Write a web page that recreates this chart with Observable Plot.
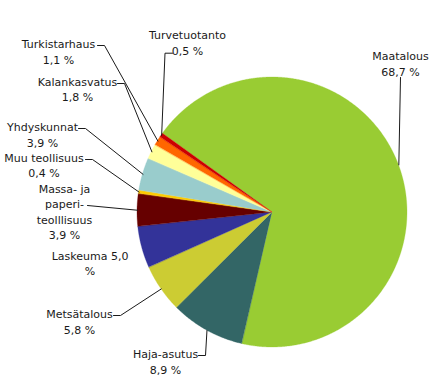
<!DOCTYPE html>
<html><head><meta charset="utf-8">
<script src="https://cdn.jsdelivr.net/npm/d3@7"></script>
<script src="https://cdn.jsdelivr.net/npm/@observablehq/plot@0.6"></script>
<style>body{margin:0;background:#fff}</style>
</head><body><div id="chart"></div>
<script>
// Data
const categories = ["Maatalous","Haja-asutus","Metsätalous","Laskeuma","Massa- ja paperi-teolllisuus","Muu teollisuus","Yhdyskunnat","Kalankasvatus","Turkistarhaus","Turvetuotanto"];
const shares = [68.7, 8.9, 5.8, 5.0, 3.9, 0.4, 3.9, 1.8, 1.1, 0.5];
const colors = ["#99cc33","#336666","#cccc33","#333399","#660000","#ffcc00","#99cccc","#ffff99","#ff6600","#cc0000"];
const labelNames = ["Maatalous","Haja-asutus","Metsätalous","Laskeuma","Massa- ja\npaperi-\nteolllisuus","Muu teollisuus","Yhdyskunnat","Kalankasvatus","Turkistarhaus","Turvetuotanto"];

// Layout (label positions and leader starts), pixels
const cx = 272, cy = 212, R = 135, startDeg = -54.3;
const layout = [
  {x: 400, y: 62.5, lead: [[400, 77]]},
  {x: 165, y: 360.5, lead: [[198, 355], [205, 355]]},
  {x: 79, y: 320.5, lead: [[113, 315], [120, 315]]},
  {x: 89.5, y: 262, lead: null, inline: true},
  {x: 64, y: 210.5, lead: [[87, 205]]},
  {x: 43.5, y: 164, lead: [[85, 159], [92, 159]]},
  {x: 42, y: 133.5, lead: [[78, 128], [85, 128]]},
  {x: 77, y: 88, lead: [[117, 83], [124, 83]]},
  {x: 58, y: 50.5, lead: [[97, 45], [104, 45]]},
  {x: 187, y: 41.3, lead: [[172, 52.7], [164.5, 52.7]]}
];

const fmt = v => v.toFixed(1).replace(".", ",");
const pie = d3.pie().sort(null).startAngle(startDeg * Math.PI / 180).endAngle((startDeg + 360) * Math.PI / 180);
const arcs = pie(shares);

// Arc points for wedges
const wedgePts = [];
arcs.forEach((a, i) => {
  const n = Math.max(2, Math.ceil((a.endAngle - a.startAngle) / (0.4 * Math.PI / 180)));
  for (let k = 0; k <= n; k++) {
    const t = a.startAngle + (a.endAngle - a.startAngle) * k / n;
    wedgePts.push({name: categories[i], x: cx + R * Math.sin(t), y: cy - R * Math.cos(t)});
  }
});

// Leader lines
const leaderPts = [];
arcs.forEach((a, i) => {
  const L = layout[i];
  if (!L.lead) return;
  L.lead.forEach(([x, y]) => leaderPts.push({id: i, x, y}));
  const m = (a.startAngle + a.endAngle) / 2;
  leaderPts.push({id: i, x: cx + R * Math.sin(m), y: cy - R * Math.cos(m)});
});

// Labels
const labels = categories.map((c, i) => ({
  x: layout[i].x, y: layout[i].y,
  text: layout[i].inline ? `${labelNames[i]} ${fmt(shares[i])}\n%` : `${labelNames[i]}\n${fmt(shares[i])} %`
}));

const chart = Plot.plot({
  width: 447, height: 386, margin: 0,
  x: {domain: [0, 447], range: [0, 447], axis: null},
  y: {domain: [0, 386], range: [0, 386], axis: null},
  color: {domain: categories, range: colors},
  style: {fontFamily: "DejaVu Sans, Verdana, sans-serif", background: "#fff"},
  marks: [
    Plot.area(wedgePts, {x1: cx, y1: cy, x2: "x", y2: "y", z: "name", fill: "name", stroke: "name", strokeWidth: 0.3, curve: "linear"}),
    Plot.line(leaderPts, {x: "x", y: "y", z: "id", stroke: "#1a1a1a", strokeWidth: 1, curve: "linear"}),
    Plot.text(labels, {x: "x", y: "y", text: "text", fontSize: 11, lineHeight: 1.42, fill: "#1a1a1a", textAnchor: "middle"})
  ]
});
document.getElementById("chart").appendChild(chart);
</script>
</body></html>
